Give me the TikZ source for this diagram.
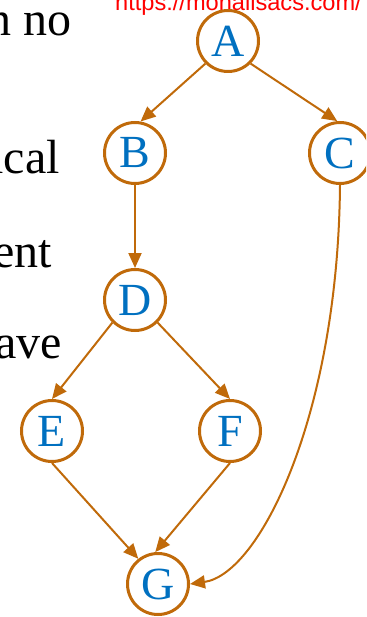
\documentclass[tikz,border=0pt]{standalone}
\usepackage{fontspec}
\setmainfont{Liberation Serif}
\newfontfamily\urlfont{Liberation Sans}
\usetikzlibrary{arrows.meta}
\definecolor{edgebrown}{RGB}{192,106,10}
\definecolor{letterblue}{RGB}{0,112,192}
\definecolor{urlred}{RGB}{255,0,0}
\begin{document}
\begin{tikzpicture}[x=1pt,y=-1pt,
  vertex/.style={circle, draw=edgebrown, line width=3pt, fill=white,
    minimum size=61pt, inner sep=0pt, text=letterblue,
    font=\fontsize{46}{46}\selectfont},
  link/.style={draw=edgebrown, line width=2pt,
    -{Triangle[length=15pt,width=13pt]}},
  bodytext/.style={anchor=base east, inner sep=0pt, text=black,
    font=\fontsize{48}{48}\selectfont}]
\useasboundingbox (0,0) rectangle (366,617);
\begin{scope}
\clip (0,0) rectangle (366,617);
% fragments of the paragraph on the left
\node[bodytext] (t1) at (72,36) {n no};
\node[bodytext] (t2) at (60,174) {ical};
\node[bodytext] (t3) at (52,267) {ent};
\node[bodytext] (t4) at (62,358) {ave};
% web address along the top
\node[anchor=base west, inner sep=0pt, text=urlred,
  font=\urlfont\fontsize{23.6}{24}\selectfont] (url) at (115,11) {https://monalisacs.com/};
% graph vertices
\node[vertex] (A) at (228,41) {A};
\node[vertex] (B) at (135,153) {B};
\node[vertex] (C) at (340,153) {C};
\node[vertex] (D) at (135,300) {D};
\node[vertex] (E) at (52,431) {E};
\node[vertex] (F) at (230,431) {F};
\node[vertex] (G) at (158,584) {G};
% edges (anchor angles are measured on the page: 90 is the top of a circle)
\draw[link] (A.-135) -- (B.80);
\draw[link] (A.-45) -- (C.95);
\draw[link] (B.south) -- (D.north);
\draw[link] (D.-135) -- (E.90);
\draw[link] (D.-45) -- (F.90);
\draw[link] (E.-90) -- (G.128);
\draw[link] (F.-90) -- (G.95);
\draw[link] (C.south) .. controls +(-2,230) and +(70,-10) .. (G.east);
\end{scope}
\end{tikzpicture}
\end{document}
